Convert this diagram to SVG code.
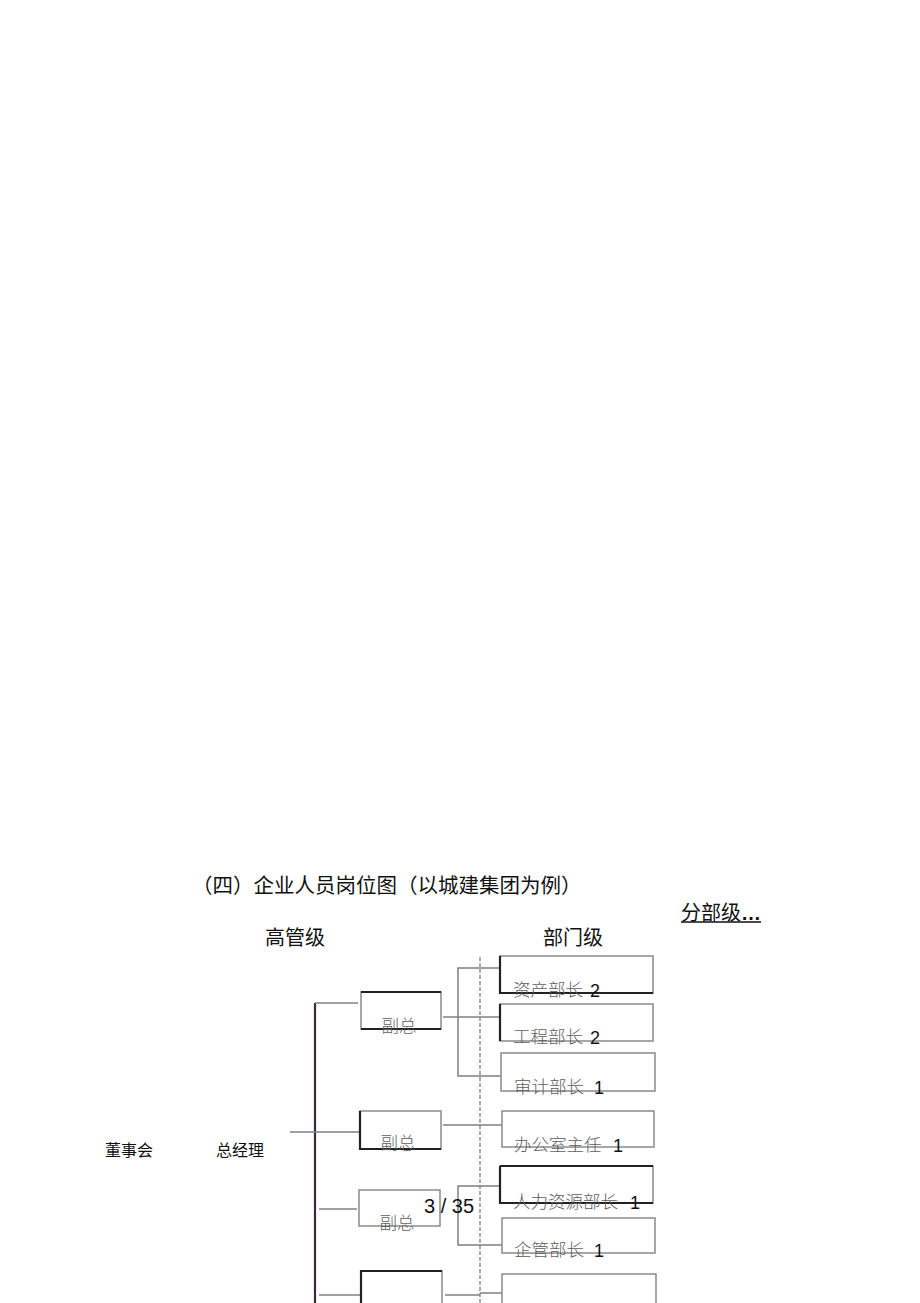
<svg xmlns="http://www.w3.org/2000/svg" width="920" height="1303" viewBox="0 0 920 1303">
<style>
.h{font-family:"Noto Sans CJK SC","Liberation Sans",sans-serif;fill:#111}
.lb{font-family:"Noto Sans CJK SC",sans-serif;font-size:17.5px;fill:#5e5e5e;font-weight:300}
.num{font-family:"Liberation Sans",sans-serif;font-size:18px;fill:#111}
.box{fill:none;stroke:#8a8a8a;stroke-width:1.5}
.dk{stroke:#222;stroke-width:2.2;fill:none}
.ln{stroke:#808080;stroke-width:1.5;fill:none}
</style>
<rect width="920" height="1303" fill="#fff"/>
<g id="titles">
<text class="h" x="192" y="893" font-size="20.5">（四）企业人员岗位图（以城建集团为例）</text>
<text class="h" x="265" y="945" font-size="20">高管级</text>
<text class="h" x="543" y="945" font-size="20">部门级</text>
<text class="h" x="681" y="920" font-size="20">分部级<tspan font-family="Liberation Sans" font-weight="bold">…</tspan></text>
<line x1="681" y1="922" x2="761" y2="922" stroke="#111" stroke-width="1.5"/>
<text class="h" x="105" y="1156" font-size="16">董事会</text>
<text class="h" x="216" y="1156" font-size="16">总经理</text>
</g>
<g id="connectors">
<line x1="315" y1="1003" x2="315" y2="1303" stroke="#3a2a40" stroke-width="2.2"/>
<line class="ln" x1="315" y1="1003" x2="358" y2="1003"/>
<line class="ln" x1="290" y1="1132" x2="360" y2="1132"/>
<line class="ln" x1="319" y1="1209" x2="357" y2="1209"/>
<line class="ln" x1="319" y1="1295" x2="361" y2="1295"/>
<line x1="480" y1="957" x2="480" y2="1303" stroke="#808080" stroke-width="1.3" stroke-dasharray="4 2"/>
<line class="ln" x1="443" y1="1017" x2="500" y2="1017"/>
<polyline class="ln" points="500,968 458,968 458,1076 501,1076"/>
<line class="ln" x1="443" y1="1125" x2="502" y2="1125"/>
<polyline class="ln" points="500,1186 458,1186 458,1245 502,1245"/>
<line class="ln" x1="445" y1="1295" x2="480" y2="1295"/>
<line class="ln" x1="480" y1="1293" x2="502" y2="1293"/>
</g>
<g id="vp1">
<rect class="box" x="361" y="992" width="80" height="37"/>
<path class="dk" d="M361,992H441M361,1029H441"/>
<text class="lb" x="399" y="1032" text-anchor="middle">副总</text>
</g>
<g id="vp2">
<rect class="box" x="360" y="1111" width="81" height="38"/>
<path class="dk" d="M360,1111V1149H441"/>
<text class="lb" x="398" y="1149" text-anchor="middle">副总</text>
</g>
<g id="vp3">
<rect class="box" x="359" y="1190" width="81" height="36"/>
<text class="lb" x="397" y="1229" text-anchor="middle">副总</text>
</g>
<g id="vp4">
<rect class="box" x="361" y="1271" width="81" height="40"/>
<path class="dk" d="M361,1303V1271H442"/>
</g>
<g id="d1">
<rect class="box" x="500" y="956" width="153" height="37"/>
<path class="dk" d="M500,956V993H653"/>
<text class="lb" x="513" y="996">资产部长</text><text class="num" x="590" y="997">2</text>
</g>
<g id="d2">
<rect class="box" x="500" y="1004" width="153" height="37"/>
<path class="dk" d="M500,1004V1041"/>
<text class="lb" x="513" y="1043">工程部长</text><text class="num" x="590" y="1044">2</text>
</g>
<g id="d3">
<rect class="box" x="501" y="1053" width="154" height="38"/>
<text class="lb" x="514" y="1093">审计部长</text><text class="num" x="594" y="1094">1</text>
</g>
<g id="d4">
<rect class="box" x="502" y="1111" width="152" height="36"/>
<text class="lb" x="514" y="1151">办公室主任</text><text class="num" x="613" y="1152">1</text>
</g>
<g id="d5">
<rect class="box" x="500" y="1166" width="153" height="37"/>
<path class="dk" d="M500,1166H653M500,1166V1203H653"/>
<text class="lb" x="513" y="1208">人力资源部长</text><text class="num" x="630" y="1209">1</text>
</g>
<g id="d6">
<rect class="box" x="502" y="1218" width="153" height="35"/>
<text class="lb" x="514" y="1256">企管部长</text><text class="num" x="594" y="1257">1</text>
</g>
<g id="d7">
<rect class="box" x="502" y="1274" width="154" height="40"/>
</g>
<text x="424" y="1213" font-size="20" font-family="Liberation Sans,sans-serif" fill="#111">3 / 35</text>
</svg>
